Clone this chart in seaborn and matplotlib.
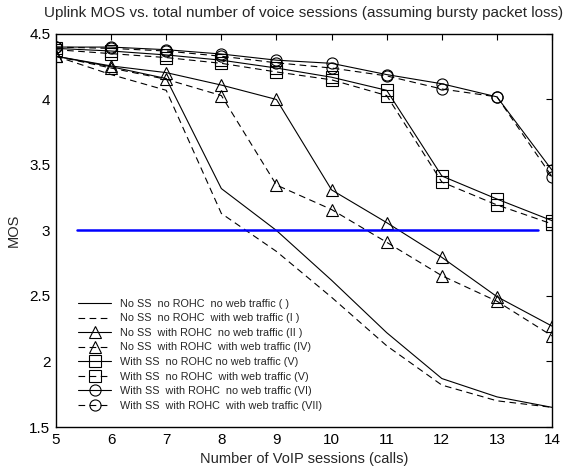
import numpy as np
import pandas as pd
import seaborn as sns
import matplotlib
matplotlib.use('Agg')
import matplotlib.pyplot as plt

# --- data ---
sessions = [5, 6, 7, 8, 9, 10, 11, 12, 13, 14]

mos_i = [4.33, 4.25, 4.16, 3.32, 3.00, 2.62, 2.22, 1.87, 1.73, 1.65]
mos_i_web = [4.33, 4.19, 4.07, 3.13, 2.84, 2.49, 2.12, 1.82, 1.70, 1.65]
mos_ii = [4.33, 4.256, 4.205, 4.11, 4.00, 3.31, 3.06, 2.795, 2.495, 2.27]
mos_iv = [4.33, 4.24, 4.154, 4.03, 3.347, 3.16, 2.91, 2.655, 2.46, 2.195]
mos_v = [4.39, 4.37, 4.34, 4.30, 4.24, 4.17, 4.07, 3.416, 3.24, 3.075]
mos_v_web = [4.38, 4.35, 4.32, 4.276, 4.21, 4.15, 4.03, 3.37, 3.195, 3.05]
mos_vi = [4.40, 4.40, 4.38, 4.347, 4.30, 4.276, 4.19, 4.12, 4.02, 3.46]
mos_vii = [4.40, 4.39, 4.37, 4.33, 4.28, 4.24, 4.18, 4.08, 4.02, 3.41]

labels = [
    'No SS  no ROHC  no web traffic ( )',
    'No SS  no ROHC  with web traffic (I )',
    'No SS  with ROHC  no web traffic (II )',
    'No SS  with ROHC  with web traffic (IV)',
    'With SS  no ROHC no web traffic (V)',
    'With SS  no ROHC  with web traffic (V)',
    'With SS  with ROHC  no web traffic (VI)',
    'With SS  with ROHC  with web traffic (VII)',
]

threshold_x = [5.375, 13.75]
threshold_mos = [3.0, 3.0]

series = [mos_i, mos_i_web, mos_ii, mos_iv, mos_v, mos_v_web, mos_vi, mos_vii]
markers = [None, None, '^', '^', 's', 's', 'o', 'o']
dashed = [False, True, False, True, False, True, False, True]

sns.set_style('white')
plt.rcParams['font.family'] = ['Liberation Sans', 'DejaVu Sans']

fig = plt.figure(figsize=(5.65, 4.68), dpi=100)
ax = fig.add_axes([0.0991, 0.0876, 0.878, 0.8398])

for vals, lab, mk, ds in zip(series, labels, markers, dashed):
    df = pd.DataFrame({'sessions': sessions, 'mos': vals})
    kw = dict(color='black', lw=0.8, label=lab)
    if mk is not None:
        kw.update(marker=mk, markersize=8, markerfacecolor='none',
                  markeredgecolor='black', markeredgewidth=0.8)
    if ds:
        kw.update(dashes=(6, 4))
    sns.lineplot(data=df, x='sessions', y='mos', ax=ax, **kw)

# MOS = 3 acceptability threshold
sns.lineplot(x=threshold_x, y=threshold_mos, ax=ax, color='#0000ff', lw=1.8)

ax.set_xlim(5, 14)
ax.set_ylim(1.5, 4.5)
ax.set_xticks(sessions)
ax.set_yticks([1.5, 2, 2.5, 3, 3.5, 4, 4.5])
ax.set_yticklabels(['1.5', '2', '2.5', '3', '3.5', '4', '4.5'])
ax.tick_params(direction='in', length=4, width=0.8, top=True, right=True,
               labelsize=11, pad=4, colors='black')
for sp in ax.spines.values():
    sp.set_color('black')
    sp.set_linewidth(1.0)

ax.set_xlabel('Number of VoIP sessions (calls)', fontsize=10.5, labelpad=4)
ax.set_ylabel('MOS', fontsize=10.5, labelpad=6)
ax.set_title('Uplink MOS vs. total number of voice sessions (assuming bursty packet loss)',
             fontsize=11, pad=12)

handles, labs = ax.get_legend_handles_labels()
ax.legend(handles[:8], labs[:8], loc='lower left', bbox_to_anchor=(0.031, 0.025),
          frameon=False, fontsize=7.8, handlelength=3.1, handletextpad=0.75,
          labelspacing=0.42, borderaxespad=0.2, numpoints=1)

fig.savefig('out.png', dpi=100)
